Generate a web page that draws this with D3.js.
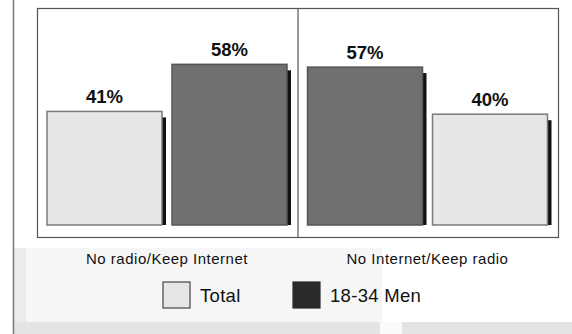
<!DOCTYPE html>
<html lang="en">
<head>
    <meta charset="UTF-8">
    <title>No radio / No Internet</title>
    <script src="https://cdn.jsdelivr.net/npm/d3@7"></script>
    <style>
        html, body { margin: 0; padding: 0; background: #fff; }
        text { font-family: "Liberation Sans", Arial, sans-serif; fill: #111; }
    </style>
</head>
<body>
<div id="chart"></div>
<script>
    var width = 572;
    var height = 334;

    // data
    var categories = ["No radio/Keep Internet", "No Internet/Keep radio"];
    var seriesNames = ["Total", "18-34 Men"];
    var totalValues = [41, 40];
    var menValues = [58, 57];
    // bar order inside each group (the second group is reversed)
    var groupOrder = [["Total", "18-34 Men"], ["18-34 Men", "Total"]];

    var colors = {"Total": "#e6e6e6", "18-34 Men": "#707070"};
    var strokes = {"Total": "#7a7a7a", "18-34 Men": "#555"};

    var svg = d3.select("#chart")
            .append("svg")
            .attr("width", width)
            .attr("height", height);

    // scanned page background
    svg.append("rect").attr("x", 14).attr("y", 248).attr("width", 368).attr("height", 86).attr("fill", "#f6f6f6");
    svg.append("rect").attr("x", 14).attr("y", 248).attr("width", 12).attr("height", 86).attr("fill", "#ebebeb");
    svg.append("rect").attr("x", 14).attr("y", 322).attr("width", 558).attr("height", 12).attr("fill", "#e4e4e4");
    svg.append("rect").attr("x", 380).attr("y", 322).attr("width", 22).attr("height", 12).attr("fill", "#fafafa");
    svg.append("line").attr("x1", 13.5).attr("x2", 13.5).attr("y1", 0).attr("y2", height)
            .attr("stroke", "#777").attr("stroke-width", 1.5);

    var frame = {left: 37, right: 558, top: 8, bottom: 237};

    var x0 = d3.scaleBand()
            .domain(categories)
            .range([frame.left, frame.right])
            .paddingInner(0)
            .paddingOuter(0);

    var x1 = d3.scaleBand()
            .domain([0, 1])
            .range([10, 250])
            .paddingInner(0.08);

    var y = d3.scaleLinear()
            .domain([0, 100])
            .range([225, -52]);

    // frame and divider
    svg.append("rect")
            .attr("x", frame.left + 0.5)
            .attr("y", frame.top + 0.5)
            .attr("width", frame.right - frame.left)
            .attr("height", frame.bottom - frame.top)
            .attr("fill", "none")
            .attr("stroke", "#555")
            .attr("stroke-width", 1.2);
    svg.append("line")
            .attr("x1", x0(categories[1]) + 0.5)
            .attr("x2", x0(categories[1]) + 0.5)
            .attr("y1", frame.top)
            .attr("y2", frame.bottom)
            .attr("stroke", "#555")
            .attr("stroke-width", 1.2);

    var bars = [];
    categories.forEach(function (c, ci) {
        groupOrder[ci].forEach(function (s, si) {
            var v = s === "Total" ? totalValues[ci] : menValues[ci];
            bars.push({cat: c, series: s, slot: si, value: v});
        });
    });

    var g = svg.append("g");

    // drop shadows
    g.selectAll("rect.shadow")
            .data(bars)
            .enter()
            .append("rect")
            .attr("class", "shadow")
            .attr("x", function (d) { return x0(d.cat) + x1(d.slot) + x1.bandwidth(); })
            .attr("y", function (d) { return y(d.value) + 6; })
            .attr("width", 4)
            .attr("height", function (d) { return y(0) - y(d.value) - 6; })
            .attr("fill", "#111");

    g.selectAll("rect.bar")
            .data(bars)
            .enter()
            .append("rect")
            .attr("class", "bar")
            .attr("x", function (d) { return x0(d.cat) + x1(d.slot); })
            .attr("y", function (d) { return y(d.value); })
            .attr("width", x1.bandwidth())
            .attr("height", function (d) { return y(0) - y(d.value); })
            .attr("fill", function (d) { return colors[d.series]; })
            .attr("stroke", function (d) { return strokes[d.series]; })
            .attr("stroke-width", 1.5);

    g.selectAll("text.value")
            .data(bars)
            .enter()
            .append("text")
            .attr("class", "value")
            .attr("x", function (d) { return x0(d.cat) + x1(d.slot) + x1.bandwidth() / 2; })
            .attr("y", function (d) { return y(d.value) - 8; })
            .attr("text-anchor", "middle")
            .style("font-size", "18.5px")
            .style("font-weight", "bold")
            .text(function (d) { return d.value + "%"; });

    // category labels
    svg.selectAll("text.cat")
            .data(categories)
            .enter()
            .append("text")
            .attr("class", "cat")
            .attr("x", function (d) { return x0(d) + 130; })
            .attr("y", 264)
            .attr("text-anchor", "middle")
            .style("font-size", "15px")
            .style("letter-spacing", "0.5px")
            .text(function (d) { return d; });

    // legend
    var legendX = [163, 293];
    var legend = svg.selectAll("g.legend")
            .data(seriesNames)
            .enter()
            .append("g")
            .attr("class", "legend")
            .attr("transform", function (d, i) { return "translate(" + legendX[i] + ",282)"; });
    legend.append("rect")
            .attr("width", 27)
            .attr("height", 26)
            .attr("fill", function (d) { return d === "Total" ? colors[d] : "#2a2a2a"; })
            .attr("stroke", function (d) { return d === "Total" ? "#444" : "#2a2a2a"; })
            .attr("stroke-width", 1.2);
    legend.append("text")
            .attr("x", 37)
            .attr("y", 20)
            .style("font-size", "18.5px")
            .style("letter-spacing", "0.3px")
            .text(function (d) { return d; });
</script>
</body>
</html>
